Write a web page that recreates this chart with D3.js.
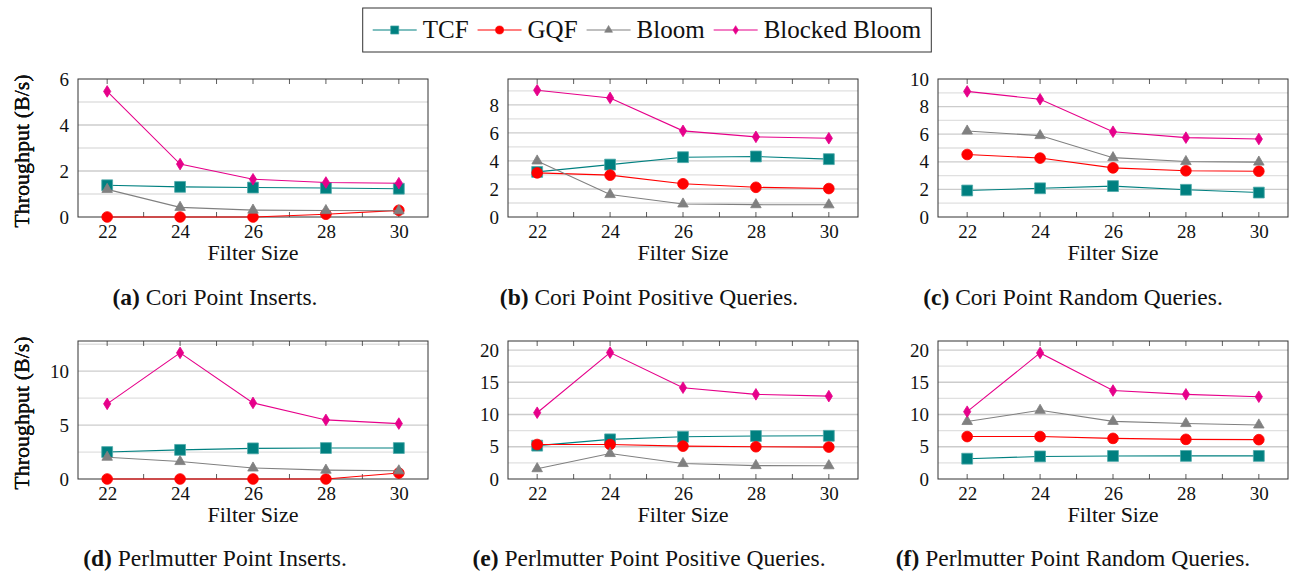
<!DOCTYPE html>
<html><head><meta charset="utf-8">
<script src="https://cdn.jsdelivr.net/npm/d3@7"></script>
<style>
html,body{margin:0;padding:0;background:#fff;}
svg text{font-family:"Liberation Serif","Times New Roman",serif;fill:#111;}
</style></head>
<body>
<svg id="chart" width="1293" height="573"></svg>
<script>
// ---- data ----
const filterSizes = [22, 24, 26, 28, 30];
const seriesNames = ["TCF", "GQF", "Bloom", "Blocked Bloom"];
const captionLetters = ["a", "b", "c", "d", "e", "f"];
const captionTexts = ["Cori Point Inserts.", "Cori Point Positive Queries.", "Cori Point Random Queries.",
  "Perlmutter Point Inserts.", "Perlmutter Point Positive Queries.", "Perlmutter Point Random Queries."];
const yMaxes = [6, 9.85, 10, 12.8, 21.4, 21.4];
const yMajorTicks = [[0,2,4,6],[0,2,4,6,8],[0,2,4,6,8,10],[0,5,10],[0,5,10,15,20],[0,5,10,15,20]];
const yMinorTicks = [[1,3,5],[1,3,5,7,9],[1,3,5,7,9],[2.5,7.5,12.5],[2.5,7.5,12.5,17.5],[2.5,7.5,12.5,17.5]];

const coriInsertsTCF   = [1.38, 1.31, 1.28, 1.26, 1.23];
const coriInsertsGQF   = [0, 0, 0, 0.12, 0.29];
const coriInsertsBloom = [1.2, 0.42, 0.3, 0.28, 0.27];
const coriInsertsBB    = [5.46, 2.3, 1.64, 1.5, 1.47];

const coriPosTCF   = [3.22, 3.74, 4.27, 4.32, 4.13];
const coriPosGQF   = [3.15, 2.99, 2.37, 2.12, 2.03];
const coriPosBloom = [4.0, 1.6, 0.93, 0.88, 0.87];
const coriPosBB    = [9.05, 8.5, 6.15, 5.72, 5.62];

const coriRandTCF   = [1.92, 2.08, 2.24, 1.97, 1.77];
const coriRandGQF   = [4.53, 4.27, 3.56, 3.35, 3.32];
const coriRandBloom = [6.23, 5.9, 4.3, 4.02, 3.98];
const coriRandBB    = [9.1, 8.53, 6.18, 5.75, 5.65];

const perlInsertsTCF   = [2.5, 2.7, 2.84, 2.87, 2.87];
const perlInsertsGQF   = [0, 0, 0, 0, 0.55];
const perlInsertsBloom = [2.02, 1.62, 1.02, 0.82, 0.76];
const perlInsertsBB    = [6.97, 11.7, 7.06, 5.48, 5.14];

const perlPosTCF   = [5.17, 6.15, 6.55, 6.67, 6.7];
const perlPosGQF   = [5.35, 5.35, 5.1, 5.0, 4.95];
const perlPosBloom = [1.6, 3.95, 2.4, 2.08, 2.06];
const perlPosBB    = [10.28, 19.6, 14.16, 13.13, 12.85];

const perlRandTCF   = [3.15, 3.5, 3.57, 3.58, 3.58];
const perlRandGQF   = [6.58, 6.58, 6.3, 6.15, 6.1];
const perlRandBloom = [8.92, 10.65, 8.94, 8.6, 8.38];
const perlRandBB    = [10.44, 19.55, 13.72, 13.13, 12.76];

const panelSeries = [
  [coriInsertsTCF, coriInsertsGQF, coriInsertsBloom, coriInsertsBB],
  [coriPosTCF, coriPosGQF, coriPosBloom, coriPosBB],
  [coriRandTCF, coriRandGQF, coriRandBloom, coriRandBB],
  [perlInsertsTCF, perlInsertsGQF, perlInsertsBloom, perlInsertsBB],
  [perlPosTCF, perlPosGQF, perlPosBloom, perlPosBB],
  [perlRandTCF, perlRandGQF, perlRandBloom, perlRandBB]
];

// ---- styles ----
const FONT = '"Liberation Serif", "Times New Roman", serif';
const colors = ["#008080", "#ff0000", "#808080", "#e6008a"];
const outline = ["#4fa9a9", "#ff0000", "#808080", "#e6008a"];

function markerPath(i, big) {
  const s = big ? 1 : 0.75;
  if (i === 0) return d3.symbol(d3.symbolSquare, 118 * s * s)();
  if (i === 1) return d3.symbol(d3.symbolCircle, 90 * s * s)();
  if (i === 2) return d3.symbol(d3.symbolTriangle, 48 * s * s)();
  const w = 3.6 * s, h = 5.8 * s;
  return `M0,${-h}L${w},0L0,${h}L${-w},0Z`;
}

const svg = d3.select("#chart");
const plotW = 350, plotH = 138;
const colX = [78, 508, 938];
const rowY = [79, 341];
const captionX = [215, 649, 1073];

panelSeries.forEach((series, p) => {
  const col = p % 3, row = Math.floor(p / 3);
  const x0 = colX[col], y0 = rowY[row];
  const g = svg.append("g").attr("transform", `translate(${x0},${y0})`);
  const x = d3.scaleLinear().domain([21.2, 30.8]).range([0, plotW]);
  const y = d3.scaleLinear().domain([0, yMaxes[p]]).range([plotH, 0]);

  // grid
  g.append("g").selectAll("line").data(yMinorTicks[p].filter(v => v < yMaxes[p])).join("line")
    .attr("x1", 0).attr("x2", plotW).attr("y1", d => y(d)).attr("y2", d => y(d))
    .attr("stroke", "#e0e0e0").attr("stroke-width", 1.3);
  g.append("g").selectAll("line").data(yMajorTicks[p].filter(v => v > 0 && v < yMaxes[p])).join("line")
    .attr("x1", 0).attr("x2", plotW).attr("y1", d => y(d)).attr("y2", d => y(d))
    .attr("stroke", "#cccccc").attr("stroke-width", 1.3);

  // x ticks
  const allX = d3.range(22, 31, 1);
  const xb = d3.axisBottom(x).tickValues(filterSizes).tickSize(0).tickPadding(8).tickFormat(d3.format("d"));
  const xa = g.append("g").attr("transform", `translate(0,${plotH})`).call(xb);
  xa.select(".domain").remove();
  xa.selectAll("text").attr("font-size", 19).style("font-family", FONT).attr("fill", "#111");
  g.append("g").selectAll("line").data(allX).join("line")
    .attr("x1", d => x(d)).attr("x2", d => x(d)).attr("y1", plotH).attr("y2", plotH - 5)
    .attr("stroke", "#333").attr("stroke-width", 0.8);
  g.append("g").selectAll("line").data(allX).join("line")
    .attr("x1", d => x(d)).attr("x2", d => x(d)).attr("y1", 0).attr("y2", 5)
    .attr("stroke", "#333").attr("stroke-width", 0.8);

  // y axis labels
  const yl = d3.axisLeft(y).tickValues(yMajorTicks[p]).tickSize(0).tickPadding(9).tickFormat(d3.format("d"));
  const ya = g.append("g").call(yl);
  ya.select(".domain").remove();
  ya.selectAll("text").attr("font-size", 19).style("font-family", FONT).attr("fill", "#111");

  // frame
  g.append("rect").attr("x", 0).attr("y", 0).attr("width", plotW).attr("height", plotH)
    .attr("fill", "none").attr("stroke", "#333").attr("stroke-width", 1);

  // series
  const line = d3.line().x((d, i) => x(filterSizes[i])).y(d => y(d));
  series.forEach((vals, si) => {
    g.append("path").datum(vals).attr("d", line).attr("fill", "none")
      .attr("stroke", colors[si]).attr("stroke-width", 1.1);
    g.append("g").selectAll("path").data(vals).join("path")
      .attr("d", markerPath(si, true))
      .attr("transform", (d, i) => `translate(${x(filterSizes[i])},${y(d)})`)
      .attr("fill", colors[si]).attr("stroke", outline[si]).attr("stroke-width", 0.8);
  });

  // axis titles
  g.append("text").attr("x", plotW / 2).attr("y", plotH + 43).attr("text-anchor", "middle")
    .attr("font-size", 22).style("font-family", FONT).text("Filter Size");
  g.append("text").attr("transform", `translate(${29 - x0},${plotH / 2 + 3}) rotate(-90)`)
    .attr("text-anchor", "middle").attr("font-size", 22).style("font-family", FONT).text("Throughput (B/s)");

  // caption
  const cap = svg.append("text").attr("x", captionX[col]).attr("y", row === 0 ? 305 : 566)
    .attr("text-anchor", "middle").attr("font-size", 23.5).style("font-family", FONT);
  cap.append("tspan").attr("font-weight", "bold").text(`(${captionLetters[p]})`);
  cap.append("tspan").text(" " + captionTexts[p]);
});

// legend
const leg = svg.append("g");
const legBox = leg.append("rect").attr("y", 8).attr("height", 44).attr("fill", "#fff")
  .attr("stroke", "#333").attr("stroke-width", 1);
let cx = 0;
const items = leg.append("g");
seriesNames.forEach((name, si) => {
  const it = items.append("g").attr("transform", `translate(${cx},0)`);
  it.append("line").attr("x1", 0).attr("x2", 44).attr("y1", 30).attr("y2", 30)
    .attr("stroke", colors[si]).attr("stroke-width", 1.1);
  it.append("path").attr("d", markerPath(si, false)).attr("transform", "translate(22,30)")
    .attr("fill", colors[si]).attr("stroke", outline[si]).attr("stroke-width", 0.6);
  const t = it.append("text").attr("x", 50).attr("y", 38).attr("font-size", 25)
    .style("font-family", FONT).text(name);
  cx += 50 + t.node().getComputedTextLength() + 9;
});
const totalW = cx - 9;
const startX = 647 - totalW / 2;
items.attr("transform", `translate(${startX},0)`);
legBox.attr("x", startX - 10).attr("width", totalW + 20);
</script>
</body></html>
